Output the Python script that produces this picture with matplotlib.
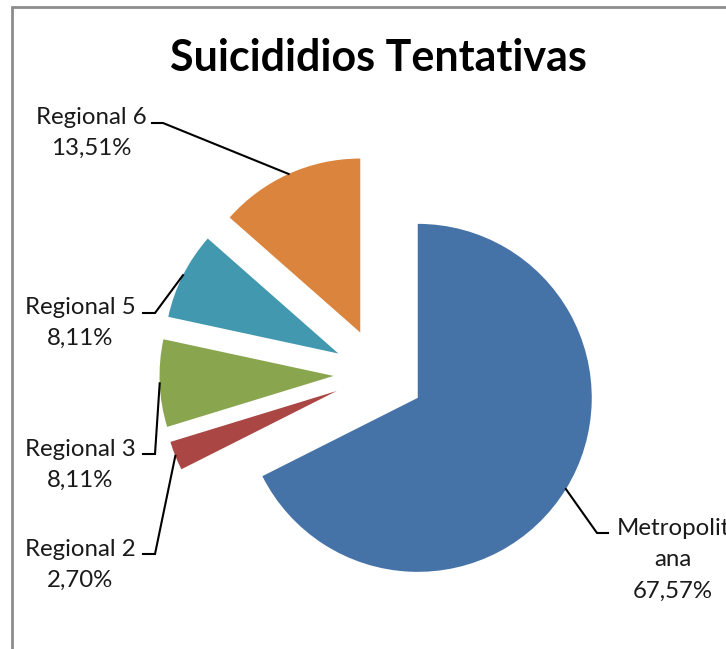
import numpy as np
import matplotlib.pyplot as plt
from matplotlib.patches import Rectangle

# Data
labels = ['Metropolitana', 'Regional 2', 'Regional 3', 'Regional 5', 'Regional 6']
values = [67.57, 2.70, 8.11, 8.11, 13.51]
label_text = ['Metropolit\nana\n67,57%', 'Regional 2\n2,70%', 'Regional 3\n8,11%',
              'Regional 5\n8,11%', 'Regional 6\n13,51%']
colors = ['#4572A7', '#AA4643', '#89A54E', '#4198AF', '#DB843D']

W, H = 726, 649

def py(y):
    # pixel row (from top) -> data y (from bottom)
    return H - y

# Layout (pixels from top-left): label centre, leader stub (start x, end x, y)
label_pos = [(673, 560), (80, 565), (80, 465), (80, 323), (91, 133)]
stubs = [(608, 597, 533), (143, 155, 554), (143, 155, 454), (143, 155, 313), (152, 163, 123)]

fig = plt.figure(figsize=(W / 100, H / 100), dpi=100)
ax = fig.add_axes([0, 0, 1, 1])

radius = 174
# explode is in data units here (pixels), not a fraction of the radius
wedges, _ = ax.pie(values, colors=colors, startangle=90, counterclock=False,
                   explode=[45.5] * len(values), center=(379, py(374)),
                   radius=radius, wedgeprops=dict(linewidth=0))

# pie() resets the limits, so set them afterwards
ax.set_xlim(0, W)
ax.set_ylim(0, H)
ax.set_aspect('equal')
ax.axis('off')

font = 'Lato'
for w, txt, (lx, ly), (sx0, sx1, sy) in zip(wedges, label_text, label_pos, stubs):
    mid = np.deg2rad((w.theta1 + w.theta2) / 2)
    cx, cy = w.center
    ex, ey = cx + w.r * np.cos(mid), cy + w.r * np.sin(mid)
    ax.plot([sx0, sx1, ex], [py(sy), py(sy), ey], color='black', linewidth=1.5,
            solid_joinstyle='miter')
    ax.text(lx, py(ly), txt, ha='center', va='center', fontsize=17.3,
            family=font, color='#1a1a1a', linespacing=1.6)

# Title
fig.text(378 / W, 1 - 58 / H, 'Suicididios Tentativas', ha='center', va='center',
         fontsize=31, fontweight='bold', family=font, color='black')

# Chart frame (cut off at right and bottom)
ax.add_patch(Rectangle((12, -20), W + 40, py(7) + 20, fill=False,
                       edgecolor='#8C8C8C', linewidth=2, clip_on=False))

fig.savefig('out.png', dpi=100)
